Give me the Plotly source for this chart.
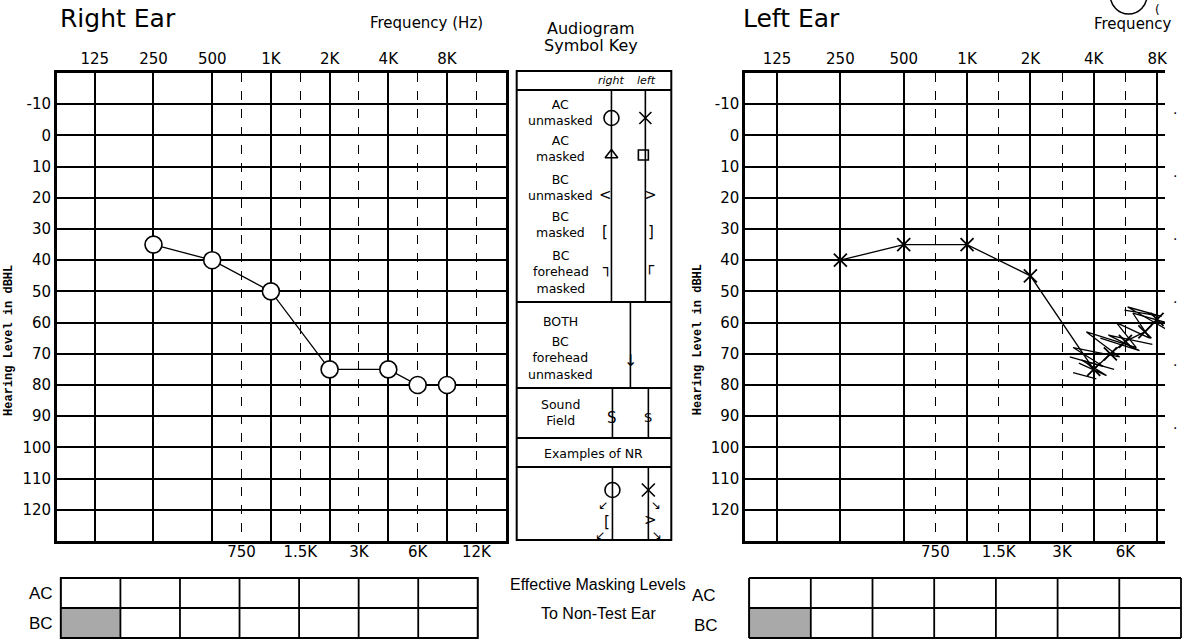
import math
import plotly.graph_objects as go

W, H = 1184, 641

# ---------------- data ----------------
oct_freqs = [125, 250, 500, 1000, 2000, 4000, 8000]
oct_labels = ["125", "250", "500", "1K", "2K", "4K", "8K"]
mid_freqs = [750, 1500, 3000, 6000, 12000]
mid_labels = ["750", "1.5K", "3K", "6K", "12K"]
db_ticks = list(range(-10, 130, 10))

right_freq = [250, 500, 1000, 2000, 4000, 6000, 8000]
right_db = [35, 40, 50, 75, 75, 80, 80]

left_freq = [250, 500, 1000, 2000, 4000, 4800, 6000, 7000, 8000]
left_db = [40, 35, 35, 45, 75, 70, 66, 63, 59]

scribble_freq = [3077, 4429, 3192, 5313, 3693, 6373, 5123, 7371, 6142, 8850, None,
                 3192, 4117, None, 3400, 4600, 3500, 5000, None, 4300, 6600, 4700, 7600, None,
                 5600, 8400, 5800, 8800]
scribble_db = [71, 74, 68, 71, 63, 68, 60, 65, 57, 60, None,
               76, 78, None, 73, 77, 72, 75, None, 65, 69, 64, 67, None,
               56, 58, 55, 62]

mask_cols = 7


def axis_freq(f):
    """Audiogram convention: inter-octave frequencies sit half-way between octaves."""
    if f is None:
        return None
    if f in mid_freqs:
        return f / 1.5 * math.sqrt(2)
    return f


def xp(px):
    return px / W


def yp(py):
    return 1 - py / H


FONT = "DejaVu Sans"
FONT2 = "Liberation Sans"

fig = go.Figure()

# Right ear (AC unmasked, circles)
fig.add_trace(go.Scatter(x=[axis_freq(f) for f in right_freq], y=right_db,
                         mode="lines+markers",
                         line=dict(color="black", width=1.3),
                         marker=dict(symbol="circle", size=17, color="white",
                                     line=dict(color="black", width=1.6)),
                         xaxis="x", yaxis="y", showlegend=False))

# Left ear (AC unmasked, crosses) + handwritten scribble
fig.add_trace(go.Scatter(x=[axis_freq(f) for f in scribble_freq], y=scribble_db,
                         mode="lines", line=dict(color="black", width=1.3),
                         xaxis="x2", yaxis="y2", showlegend=False, connectgaps=False,
                         cliponaxis=True))
fig.add_trace(go.Scatter(x=[axis_freq(f) for f in left_freq], y=left_db,
                         mode="lines+markers",
                         line=dict(color="black", width=1.3),
                         marker=dict(symbol="x-thin", size=13,
                                     line=dict(color="black", width=1.8)),
                         xaxis="x2", yaxis="y2", showlegend=False))

# dummy traces to activate overlay axes
fig.add_trace(go.Scatter(x=[1000], y=[0], mode="markers", marker=dict(opacity=0),
                         xaxis="x3", yaxis="y", showlegend=False, hoverinfo="skip"))
fig.add_trace(go.Scatter(x=[1000], y=[0], mode="markers", marker=dict(opacity=0),
                         xaxis="x4", yaxis="y2", showlegend=False, hoverinfo="skip"))

# ---------- axes ----------
rx0, rx1 = 57, 507
lx0, lx1 = 747, 1168
ytop, ybot = 73, 541
r_range = [1.9024, math.log10(16000)]
l_range = [1.9452, 3.9410]
mid_vals = [axis_freq(f) for f in mid_freqs]

common_x = dict(type="log", showgrid=True, ticks="", zeroline=False,
                tickfont=dict(family=FONT, size=15, color="black"))
common_y = dict(domain=[yp(ybot), yp(ytop)], range=[130, -20],
                tickvals=db_ticks, ticktext=[str(v) for v in db_ticks],
                showgrid=True, gridcolor="black", gridwidth=1.6, zeroline=False,
                showline=True, linecolor="black", linewidth=2.5, ticks="",
                tickfont=dict(family=FONT, size=15, color="black"))

fig.update_layout(
    xaxis=dict(**common_x, domain=[xp(rx0), xp(rx1)], range=r_range, side="top",
               anchor="y", tickvals=oct_freqs, ticktext=oct_labels,
               gridcolor="black", gridwidth=1.8, showline=True, linecolor="black",
               linewidth=2.5, mirror=True),
    xaxis3=dict(**common_x, overlaying="x", range=r_range, side="bottom", anchor="y",
                tickvals=mid_vals, ticktext=mid_labels, gridcolor="black",
                gridwidth=1, griddash="dash", showline=False),
    yaxis=dict(**common_y, anchor="x", mirror=True),
    xaxis2=dict(**common_x, domain=[xp(lx0), xp(lx1)], range=l_range, side="top",
                anchor="y2", tickvals=oct_freqs, ticktext=oct_labels,
                gridcolor="black", gridwidth=1.8, showline=True, linecolor="black",
                linewidth=2.5, mirror=True),
    xaxis4=dict(**common_x, overlaying="x2", range=l_range, side="bottom", anchor="y2",
                tickvals=mid_vals[:4], ticktext=mid_labels[:4], gridcolor="black",
                gridwidth=1, griddash="dash", showline=False),
    yaxis2=dict(**common_y, anchor="x2", mirror=False),
    xaxis5=dict(domain=[0, 1], range=[0, W], visible=False, anchor="y5", fixedrange=True),
    yaxis5=dict(domain=[0, 1], range=[H, 0], visible=False, anchor="x5", fixedrange=True),
)

# ---------- key symbols (decorative, pixel overlay axis) ----------
key_sym = [
    (613, 118, "circle-open", 15), (647, 118, "x-thin-open", 12),
    (613, 155, "triangle-up-open", 11), (645, 155, "square-open", 10),
    (614, 490, "circle-open", 15), (650, 490, "x-thin-open", 13),
]
for (kx, ky, sym, sz) in key_sym:
    fig.add_trace(go.Scatter(x=[kx], y=[ky], mode="markers", xaxis="x5", yaxis="y5",
                             marker=dict(symbol=sym, size=sz, color="black",
                                         line=dict(color="black", width=1.6)),
                             showlegend=False, hoverinfo="skip"))

shapes = []


def hline(x0, x1, y, w=2):
    shapes.append(dict(type="line", xref="paper", yref="paper", x0=xp(x0), x1=xp(x1),
                       y0=yp(y), y1=yp(y), line=dict(color="black", width=w)))


def vline(x, y0, y1, w=2):
    shapes.append(dict(type="line", xref="paper", yref="paper", x0=xp(x), x1=xp(x),
                       y0=yp(y0), y1=yp(y1), line=dict(color="black", width=w)))


def rect(x0, y0, x1, y1, w=2, fill=None):
    d = dict(type="rect", xref="paper", yref="paper", x0=xp(x0), x1=xp(x1),
             y0=yp(y1), y1=yp(y0), line=dict(color="black", width=w))
    if fill:
        d["fillcolor"] = fill
        d["layer"] = "below"
    shapes.append(d)


# key box
rect(518, 71, 673, 540, 2)
for yy in (90, 302, 388, 438, 467):
    hline(518, 673, yy, 1.8)
vline(613, 90, 302, 1.6)
vline(647, 90, 302, 1.6)
vline(632, 302, 388, 1.6)
vline(614, 388, 438, 1.6)
vline(650, 388, 438, 1.6)
vline(614, 467, 540, 1.6)
vline(650, 467, 540, 1.6)


# masking tables
def mask_table(x0, x1, y0, y1, ncol, right_open=False):
    cw = (x1 - x0) / ncol
    rect(x0 + 1, y0 + (y1 - y0) / 2, x0 + cw, y1, 0, fill="#a9a9a9")
    if right_open:
        hline(x0, x1, y0, 2)
        hline(x0, x1, y1, 2)
        vline(x0, y0, y1, 2)
    else:
        rect(x0, y0, x1, y1, 2)
    hline(x0, x1, (y0 + y1) / 2, 1.8)
    for i in range(1, ncol + (1 if right_open else 0)):
        vline(x0 + i * cw, y0, y1, 1.8)


mask_table(61, 479, 578, 638, mask_cols)
mask_table(751, 1184, 578, 638, mask_cols, right_open=True)

# stray handwritten circle at top right
shapes.append(dict(type="circle", xref="paper", yref="paper", x0=xp(1113), x1=xp(1150),
                   y0=yp(14), y1=yp(-24), line=dict(color="black", width=1.5)))

fig.update_layout(shapes=shapes)

ann = []


def text(x, y, s, size=13, anchor="center", angle=0, family=FONT, color="black"):
    ann.append(dict(x=xp(x), y=yp(y), xref="paper", yref="paper", text=s, showarrow=False,
                    xanchor=anchor, yanchor="middle", textangle=angle,
                    font=dict(family=family, size=size, color=color)))


text(58, 18, "Right Ear", 25, "left")
text(428, 23, "Frequency (Hz)", 15)
text(743, 18, "Left Ear", 25, "left")
text(1136, 24, "Frequency", 15)
text(1160, 10, "(", 12)
text(592, 28, "Audiogram", 16)
text(592, 46, "Symbol Key", 16)
text(613, 81, "<i>right</i>", 11)
text(648, 81, "<i>left</i>", 11)
text(562, 113, "AC<br>unmasked", 12.5)
text(562, 149, "AC<br>masked", 12.5)
text(562, 188, "BC<br>unmasked", 12.5)
text(562, 225, "BC<br>masked", 12.5)
text(562, 272, "BC<br>forehead<br>masked", 12.5)
text(562, 321, "BOTH", 12.5)
text(562, 358, "BC<br>forehead<br>unmasked", 12.5)
text(562, 412, "Sound<br>Field", 12.5)
text(595, 453, "Examples of NR", 12.5)
text(607, 195, "<", 15)
text(652, 195, ">", 15)
text(607, 232, "[", 15)
text(653, 232, "]", 15)
text(609, 268, "┐", 15, family="DejaVu Sans Mono")
text(652, 266, "┌", 15, family="DejaVu Sans Mono")
text(632, 360, "↓", 16)
text(614, 418, "S", 15)
text(650, 418, "S", 13)
text(605, 505, "↙", 12)
text(658, 505, "↘", 12)
text(609, 522, "[", 15)
text(602, 535, "↙", 12)
text(652, 520, ">", 15)
text(659, 535, "↘", 12)
text(9, 340, "<b>Hearing Level in dBHL</b>", 12, angle=-90, family="Liberation Mono")
text(700, 340, "<b>Hearing Level in dBHL</b>", 12, angle=-90, family="Liberation Mono")
text(55, 593, "AC", 17, "right", family=FONT2)
text(55, 623, "BC", 17, "right", family=FONT2)
text(600, 584, "Effective Masking Levels", 16, family=FONT2)
text(600, 613, "To Non-Test Ear", 16, family=FONT2)
text(720, 595, "AC", 17, "right", family=FONT2)
text(722, 625, "BC", 17, "right", family=FONT2)
for yy in range(103, 450, 63):
    text(1178, yy + 10, "·", 14)

fig.update_layout(annotations=ann, width=W, height=H,
                  margin=dict(l=0, r=0, t=0, b=0),
                  paper_bgcolor="white", plot_bgcolor="rgba(0,0,0,0)", showlegend=False)

fig.write_html("out.html", config={"displayModeBar": False},
               post_script="document.body.style.margin='0';")
